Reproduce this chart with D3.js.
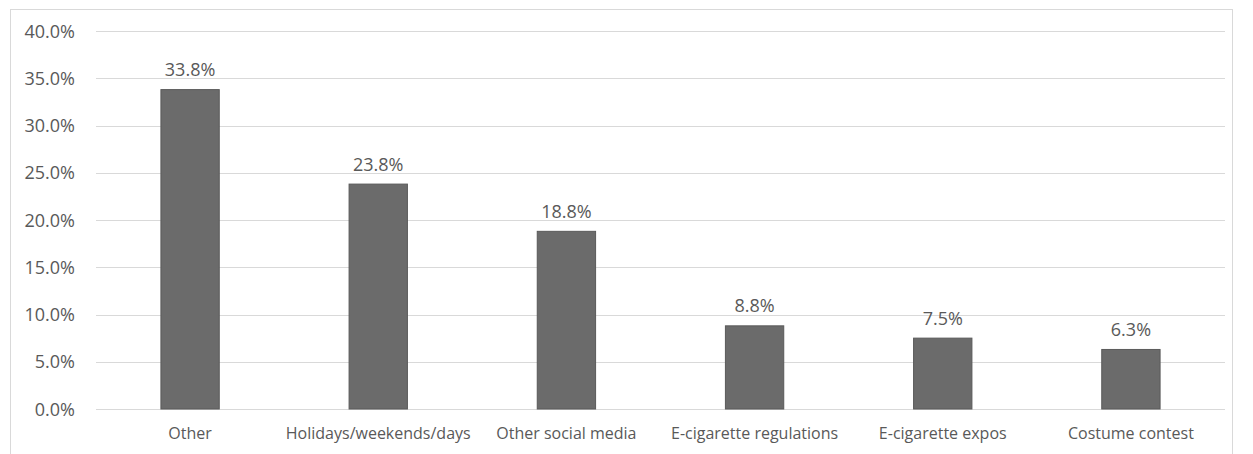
<!DOCTYPE html>
<html>
<head>
<meta charset="utf-8">
<script src="https://cdn.jsdelivr.net/npm/d3@7"></script>
<style>
  body { margin: 0; background: #fff; }
  svg { display: block; font-family: "Open Sans", sans-serif; }
</style>
</head>
<body>
<svg id="chart" width="1253" height="454"></svg>
<script>
// Chart data
var categories = ["Other", "Holidays/weekends/days", "Other social media",
                  "E-cigarette regulations", "E-cigarette expos", "Costume contest"];
var percents = [33.8, 23.8, 18.8, 8.8, 7.5, 6.3];
var yTicks = [0, 5, 10, 15, 20, 25, 30, 35, 40];

var svg = d3.select('#chart');
var textColor = '#595959';

// outer frame
svg.append('rect')
    .attr('x', 10.5)
    .attr('y', 9.5)
    .attr('width', 1222)
    .attr('height', 460)
    .style('fill', 'none')
    .style('stroke', '#d9d9d9');

var x = d3.scaleBand()
    .domain(categories)
    .range([96, 1225])
    .paddingInner(0.69)
    .paddingOuter(0.345);

var y = d3.scaleLinear()
    .domain([0, 40])
    .range([409, 31]);

// gridlines
svg.append('g').selectAll('line')
    .data(yTicks)
    .enter()
  .append('line')
    .attr('x1', 96)
    .attr('x2', 1225)
    .attr('y1', function (d) { return Math.round(y(d)) + 0.5; })
    .attr('y2', function (d) { return Math.round(y(d)) + 0.5; })
    .style('stroke', '#d9d9d9')
    .style('stroke-width', 1);

// y axis labels
svg.append('g').selectAll('text')
    .data(yTicks)
    .enter()
  .append('text')
    .attr('x', 75)
    .attr('y', function (d) { return y(d) + 6.5; })
    .attr('text-anchor', 'end')
    .attr('font-size', 18)
    .attr('fill', textColor)
    .text(function (d) { return d.toFixed(1) + '%'; });

// bars
svg.append('g').selectAll('rect')
    .data(percents)
    .enter()
  .append('rect')
    .attr('x', function (d, i) { return x(categories[i]); })
    .attr('y', function (d) { return y(d); })
    .attr('width', x.bandwidth())
    .attr('height', function (d) { return y(0) - y(d); })
    .style('fill', '#6b6b6b')
    .style('stroke', '#5a5a5a')
    .style('stroke-width', 1);

// value labels
svg.append('g').selectAll('text')
    .data(percents)
    .enter()
  .append('text')
    .attr('x', function (d, i) { return x(categories[i]) + x.bandwidth() / 2; })
    .attr('y', function (d) { return y(d) - 13.5; })
    .attr('text-anchor', 'middle')
    .attr('font-size', 18)
    .attr('fill', textColor)
    .text(function (d) { return d.toFixed(1) + '%'; });

// category labels
svg.append('g').selectAll('text')
    .data(categories)
    .enter()
  .append('text')
    .attr('x', function (d) { return x(d) + x.bandwidth() / 2; })
    .attr('y', 439)
    .attr('text-anchor', 'middle')
    .attr('font-size', 16)
    .attr('fill', textColor)
    .text(function (d) { return d; });
</script>
</body>
</html>
